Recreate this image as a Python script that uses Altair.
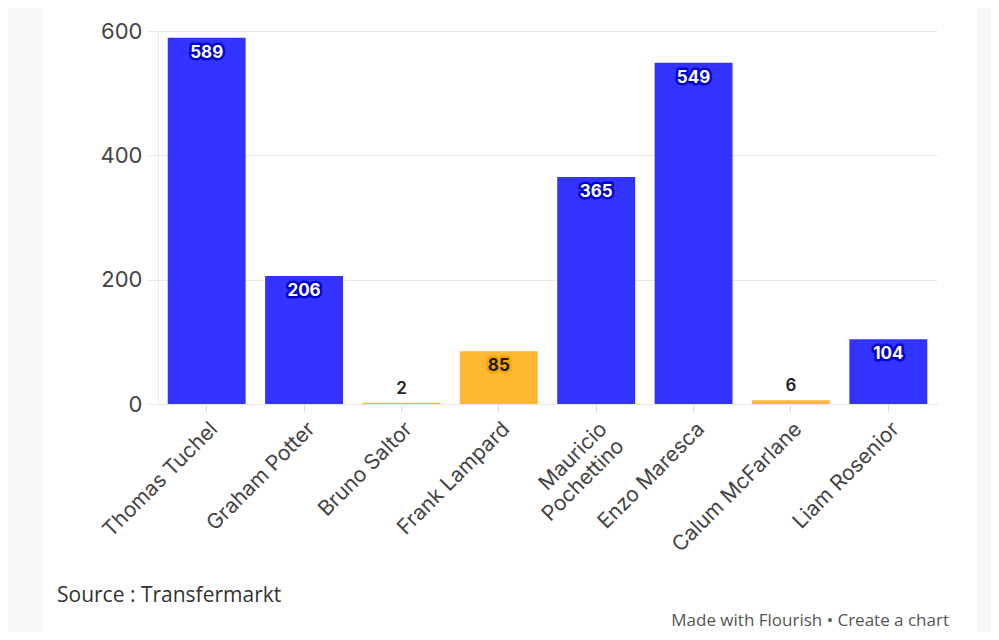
import altair as alt
import pandas as pd

managers = ["Thomas Tuchel", "Graham Potter", "Bruno Saltor", "Frank Lampard",
            "Mauricio\nPochettino", "Enzo Maresca", "Calum McFarlane", "Liam Rosenior"]
days = [589, 206, 2, 85, 365, 549, 6, 104]
roles = ["Permanent", "Permanent", "Interim", "Interim",
         "Permanent", "Permanent", "Interim", "Permanent"]
y_ticks = [0, 200, 400, 600]
source_text = "Source : Transfermarkt"
credit_text = "Made with Flourish \u2022 Create a chart"

df = pd.DataFrame({"manager": managers, "days": days, "role": roles})
one = pd.DataFrame({"k": [0]})

FONT = "Inter"
BLUE = "#3333ff"
ORANGE = "#ffb833"

x_enc = alt.X("manager:N", sort=managers, title=None,
              scale=alt.Scale(paddingInner=0.2, paddingOuter=0.1),
              axis=alt.Axis(labelAngle=-45, labelAlign="right", labelBaseline="top",
                            labelFontSize=21, labelColor="#444", labelFont=FONT,
                            labelExpr="split(datum.label, '\\n')", labelLineHeight=24,
                            tickColor="#dddddd", tickSize=8, labelPadding=6,
                            domainColor="#e6e6e6"))
y_enc = alt.Y("days:Q", title=None,
              scale=alt.Scale(domain=[0, 600], nice=False),
              axis=alt.Axis(values=y_ticks, grid=True, gridColor="#e9e9e9",
                            tickColor="#e9e9e9", tickSize=10, domainColor="#ececec",
                            labelFontSize=22, labelColor="#444", labelFont=FONT,
                            labelPadding=6))

base = alt.Chart(df)

bars = base.mark_bar().encode(
    x=x_enc, y=y_enc,
    color=alt.Color("role:N", legend=None,
                    scale=alt.Scale(domain=["Permanent", "Interim"], range=[BLUE, ORANGE])),
)

inside = base.transform_filter("datum.days >= 20")
halo = inside.mark_text(baseline="top", dy=7, fontSize=17, fontWeight="bold", font=FONT,
                        strokeWidth=5, strokeJoin="round").encode(
    x=alt.X("manager:N", sort=managers), y="days:Q", text="days:Q",
    color=alt.condition("datum.role == 'Permanent'", alt.value("#0505c8"), alt.value("#f5a400")),
    stroke=alt.condition("datum.role == 'Permanent'", alt.value("#0505c8"), alt.value("#f5a400")),
)
fill = inside.mark_text(baseline="top", dy=7, fontSize=17, fontWeight="bold", font=FONT).encode(
    x=alt.X("manager:N", sort=managers), y="days:Q", text="days:Q",
    color=alt.condition("datum.role == 'Permanent'", alt.value("white"), alt.value("#1a1a1a")),
)
above = base.transform_filter("datum.days < 20").mark_text(
    baseline="bottom", dy=-5, fontSize=17, fontWeight=600, font=FONT, color="#222"
).encode(x=alt.X("manager:N", sort=managers), y="days:Q", text="days:Q")

strip_l = alt.Chart(one).mark_rect(color="#f7f7f7").encode(
    x=alt.value(-150), x2=alt.value(-116), y=alt.value(-23), y2=alt.value(601))
strip_r = alt.Chart(one).mark_rect(color="#f7f7f7").encode(
    x=alt.value(819), x2=alt.value(833), y=alt.value(-23), y2=alt.value(601))

src = alt.Chart(one).mark_text(align="left", baseline="middle", fontSize=21,
                               font="Open Sans", color="#333").encode(
    x=alt.value(-101), y=alt.value(565), text=alt.value(source_text))
credit = alt.Chart(one).mark_text(align="right", baseline="alphabetic", fontSize=17,
                                  font="Open Sans", color="#555").encode(
    x=alt.value(791), y=alt.value(595), text=alt.value(credit_text))

chart = alt.layer(strip_l, strip_r, bars, halo, fill, above, src, credit).properties(
    width=779, height=373,
    autosize=alt.AutoSizeParams(type="none"),
    padding={"left": 150, "top": 23, "right": 54, "bottom": 228},
    background="white",
).configure_view(stroke=None)

chart.save("out.html", embed_options={"renderer": "svg", "actions": False})
